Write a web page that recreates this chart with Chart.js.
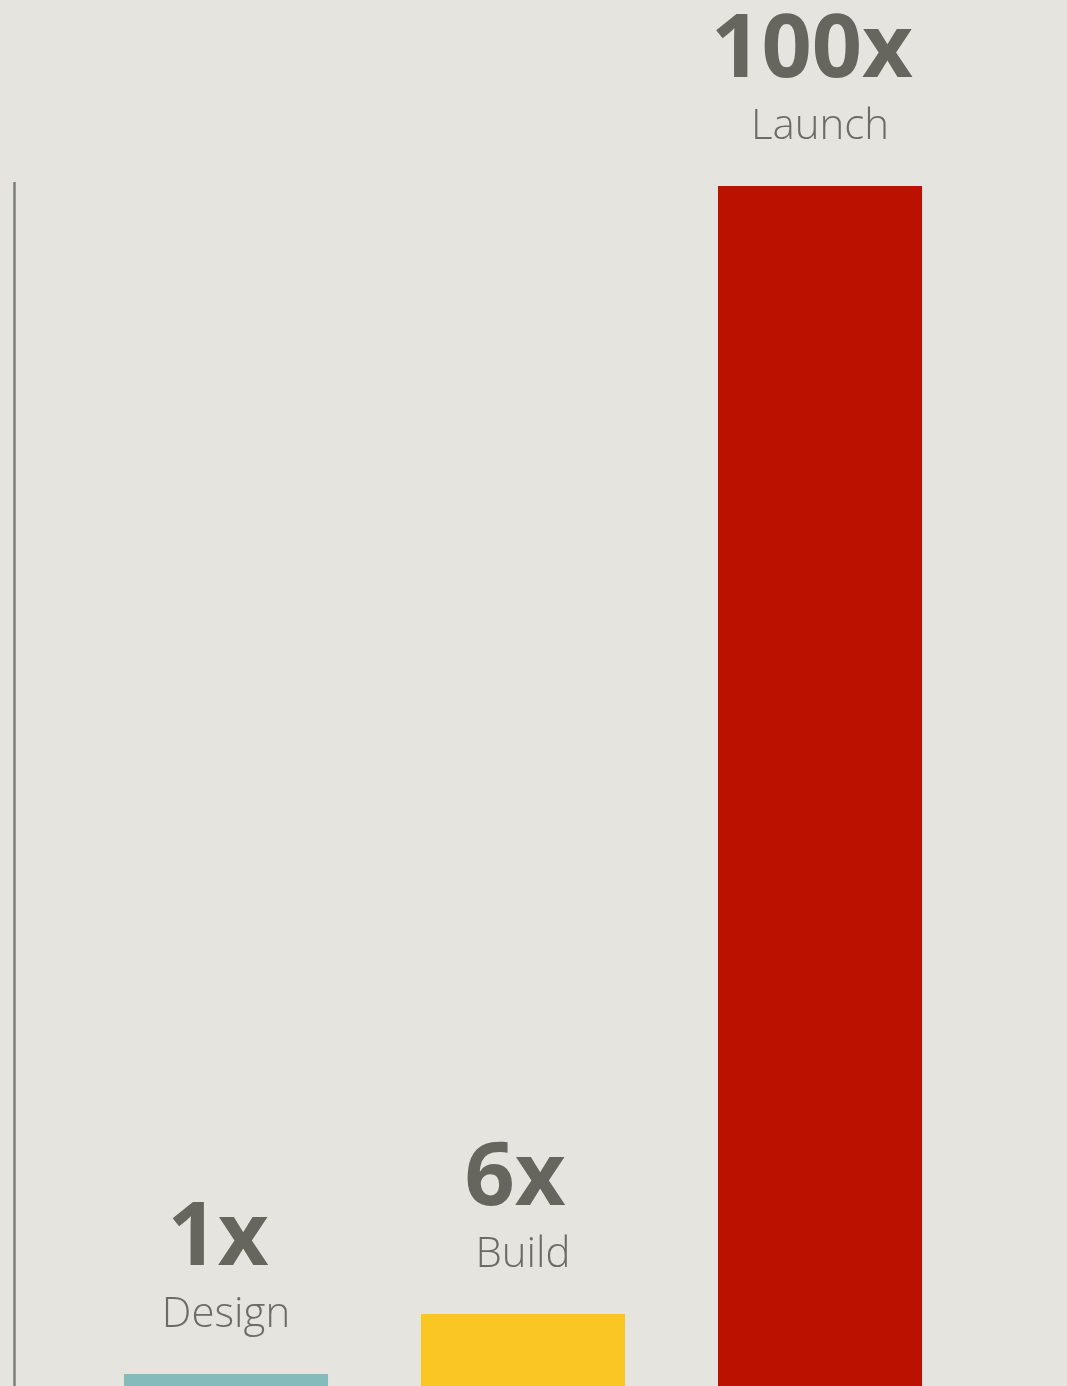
<!DOCTYPE html>
<html>
<head>
<meta charset="utf-8">
<script src="https://cdn.jsdelivr.net/npm/chart.js@4/dist/chart.umd.min.js"></script>
<style>
    body { margin: 0; background: #e5e4df; }
    #costChart { display: block; }
</style>
</head>
<body>
<canvas id="costChart" width="1067" height="1386"></canvas>
<script>
const stages = ['Design', 'Build', 'Launch'];
const costMultipliers = [1, 6, 100];
const valueLabels = ['1x', '6x', '100x'];
const barColors = ['#86bbbb', '#f9c623', '#bb1100'];

const ctx = document.getElementById('costChart').getContext('2d');

// axis line on the left, drawn a bit away from the bars
const leftLine = {
    id: 'leftLine',
    beforeDatasetsDraw(chart) {
        const c = chart.ctx;
        c.save();
        c.strokeStyle = '#7b7f7b';
        c.lineWidth = 2.5;
        c.beginPath();
        c.moveTo(14.5, chart.chartArea.top - 4);
        c.lineTo(14.5, chart.height);
        c.stroke();
        c.restore();
    }
};

// big "Nx" value and stage name above each bar
const barLabels = {
    id: 'barLabels',
    afterDatasetsDraw(chart) {
        const c = chart.ctx;
        const bars = chart.getDatasetMeta(0).data;
        c.save();
        c.textAlign = 'center';
        c.textBaseline = 'alphabetic';
        bars.forEach((bar, i) => {
            c.fillStyle = '#66655e';
            c.font = '700 88px "Open Sans", sans-serif';
            c.fillText(valueLabels[i], bar.x - 8, bar.y - 109);
            c.fillStyle = '#6c6b65';
            c.font = '300 42px "Open Sans", sans-serif';
            c.fillText(stages[i], bar.x, bar.y - 47);
        });
        c.restore();
    }
};

const costChart = new Chart(ctx, {
    type: 'bar',
    data: {
        labels: stages,
        datasets: [{
            data: costMultipliers,
            backgroundColor: barColors,
            borderWidth: 0,
            barPercentage: 0.687,
            categoryPercentage: 1
        }]
    },
    options: {
        responsive: false,
        animation: false,
        layout: {
            padding: { top: 186, left: 77.5, right: 98.5, bottom: 0 }
        },
        plugins: {
            legend: { display: false },
            tooltip: { enabled: false }
        },
        scales: {
            x: { display: false },
            y: { display: false, min: 0, max: 100 }
        }
    },
    plugins: [leftLine, barLabels]
});
</script>
</body>
</html>
